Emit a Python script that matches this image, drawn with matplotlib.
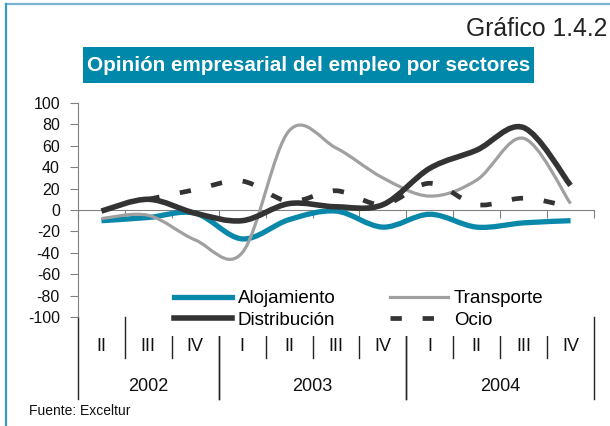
import numpy as np
import matplotlib
matplotlib.use("Agg")
import matplotlib.pyplot as plt
from matplotlib.path import Path
from matplotlib.patches import PathPatch, Rectangle
from matplotlib.lines import Line2D

plt.rcParams['font.family'] = ['Liberation Sans', 'DejaVu Sans']
plt.rcParams['axes.unicode_minus'] = False

# Data (quarterly balance of opinion)
quarters = ['II', 'III', 'IV', 'I', 'II', 'III', 'IV', 'I', 'II', 'III', 'IV']
years = ['2002', '2003', '2004']
year_spans = [(0, 3), (3, 7), (7, 11)]

alojamiento = [-10, -7, -3, -27, -9, -1, -16, -4, -16, -12, -10]
transporte = [-8, -5, -28, -40, 74, 58, 30, 13, 28, 67, 6]
distribucion = [-1, 10, -3, -10, 6, 3, 5, 39, 56, 77, 23]
ocio = [np.nan, 10, 19, 27, 8, 18, 5, 25, 5, 11, 3]

c_aloj = '#0a88aa'
c_trans = '#a0a0a0'
c_dist = '#333333'
c_ocio = '#333333'


def smooth_path(xs, ys):
    # Excel-like smoothed line: cubic Bezier segments through every point
    pts = [(x, y) for x, y in zip(xs, ys) if not np.isnan(y)]
    p = np.array(pts, dtype=float)
    n = len(p)
    verts = [p[0]]
    codes = [Path.MOVETO]
    for i in range(n - 1):
        p_prev = p[i - 1] if i > 0 else p[i]
        p_next2 = p[i + 2] if i + 2 < n else p[i + 1]
        c1 = p[i] + (p[i + 1] - p_prev) / 6.0
        c2 = p[i + 1] - (p_next2 - p[i]) / 6.0
        verts += [c1, c2, p[i + 1]]
        codes += [Path.CURVE4] * 3
    return Path(verts, codes)


fig = plt.figure(figsize=(6.1, 4.26), dpi=100)

# frame lines (top and left)
fig.add_artist(Line2D([5.5 / 610, 1], [1 - 4 / 426, 1 - 4 / 426], transform=fig.transFigure,
                      color='#79b4cc', lw=1.6))
fig.add_artist(Line2D([5.5 / 610, 5.5 / 610], [0, 1 - 4 / 426], transform=fig.transFigure,
                      color='#3a9ac6', lw=1.6))

# headers
fig.text(607.5 / 610, 1 - 36.5 / 426, 'Gráfico 1.4.2', ha='right', va='baseline',
         fontsize=17.8, color='#222222')
fig.add_artist(Rectangle((83 / 610, 1 - 83 / 426), 451 / 610, 36 / 426,
                         transform=fig.transFigure, facecolor='#0088aa', edgecolor='none'))
fig.text(309 / 610, 1 - 65.5 / 426, 'Opinión empresarial del empleo por sectores',
         ha='center', va='center', fontsize=14.9, fontweight='bold', color='white')

ax = fig.add_axes([78 / 610, 1 - 317 / 426, 516 / 610, 214 / 426])
ax.set_xlim(0, 11)
ax.set_ylim(-100, 100)

xs = np.arange(len(quarters)) + 0.5
series = [
    (alojamiento, c_aloj, 3.8, '-'),
    (transporte, c_trans, 2.3, '-'),
    (distribucion, c_dist, 4.0, '-'),
    (ocio, c_ocio, 3.4, (0, (2.4, 4.4))),
]
for vals, col, lw, ls in series:
    patch = PathPatch(smooth_path(xs, vals), facecolor='none', edgecolor=col, lw=lw,
                      linestyle=ls, capstyle='butt', joinstyle='round', zorder=3)
    ax.add_patch(patch)

for s in ['top', 'right']:
    ax.spines[s].set_visible(False)
ax.spines['bottom'].set_position(('data', 0))
ax.spines['bottom'].set_color('#808080')
ax.spines['left'].set_color('#808080')
ax.spines['bottom'].set_zorder(1)

ax.set_xticks(np.arange(0, 12))
ax.set_xticklabels([])
ax.tick_params(axis='x', direction='out', length=6, color='#808080')
ax.set_yticks(np.arange(-100, 101, 20))
ax.tick_params(axis='y', direction='out', length=6, pad=7, labelsize=11.5,
               color='#808080', labelcolor='#111111')

# multi-level category axis below the plot
tr = ax.get_xaxis_transform()
for i in range(1, len(quarters)):
    if any(i == a for a, b in year_spans):
        continue
    ax.plot([i, i], [0, -0.192], transform=tr, color='#222222', lw=1.0, clip_on=False, zorder=1)
for a, b in year_spans:
    for xb in (a, b):
        ax.plot([xb, xb], [0, -0.385], transform=tr, color='#222222', lw=1.0,
                clip_on=False, zorder=1)
for x, q in zip(xs, quarters):
    ax.text(x, -0.14, q, transform=tr, ha='center', va='center', fontsize=13, color='#111111')
for (a, b), y in zip(year_spans, years):
    ax.text((a + b) / 2, -0.327, y, transform=tr, ha='center', va='center',
            fontsize=13, color='#111111')

handles = [
    Line2D([], [], color=c_aloj, lw=3.8),
    Line2D([], [], color=c_dist, lw=4.0),
    Line2D([], [], color=c_trans, lw=2.3),
    Line2D([], [], color=c_ocio, lw=3.4, linestyle=(0, (2.4, 4.4)), dash_capstyle='butt'),
]
labels = ['Alojamiento', 'Distribución', 'Transporte', 'Ocio']
leg = ax.legend(handles, labels, ncol=2, loc='upper left',
                bbox_to_anchor=(166 / 610, 1 - 282.5 / 426), bbox_transform=fig.transFigure,
                fontsize=13.5, frameon=True, facecolor='white', edgecolor='none',
                framealpha=1, fancybox=False, borderaxespad=0, borderpad=0.4,
                handlelength=3.1, handletextpad=0.32, columnspacing=2.9,
                labelspacing=0.25)
leg.set_zorder(5)

fig.text(29 / 610, 1 - 411 / 426, 'Fuente: Exceltur', ha='left', va='center',
         fontsize=10, color='#111111')

fig.savefig('out.png', dpi=100)
